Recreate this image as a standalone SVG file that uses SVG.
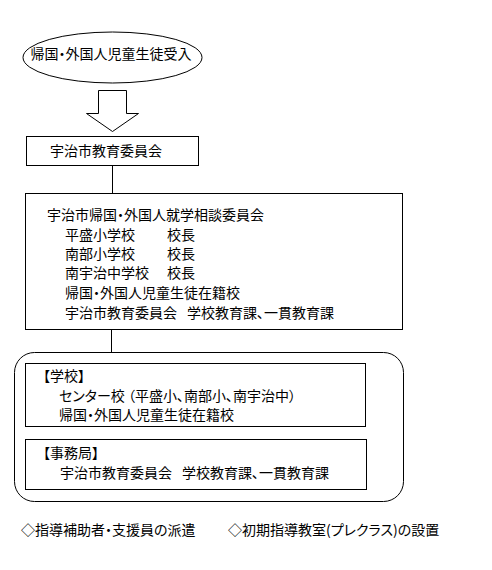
<svg xmlns="http://www.w3.org/2000/svg" width="492" height="570" viewBox="0 0 492 570">
<style>
.t{font-family:"Noto Sans CJK JP","Noto Sans CJK SC",sans-serif;font-size:14px;fill:#000;font-feature-settings:"palt"}
.s{fill:#fff;stroke:#000;stroke-width:1}
.c{fill:none;stroke:#000;stroke-width:1}
</style>
<rect x="0" y="0" width="492" height="570" fill="#fff"/>
<g id="connectors">
<polygon class="s" points="98.5,90.5 126.5,90.5 126.5,113.5 138.5,113.5 112.5,131.5 86.5,113.5 98.5,113.5"/>
<line class="c" x1="112.5" y1="166" x2="112.5" y2="193"/>
<line class="c" x1="111.5" y1="329" x2="111.5" y2="352"/>
</g>
<g id="start">
<ellipse class="s" cx="112.5" cy="57.5" rx="89.5" ry="25.5"/>
<text class="t" x="111" y="59" text-anchor="middle">帰国・外国人児童生徒受入</text>
</g>
<g id="board">
<rect class="s" x="26.5" y="136.5" width="172" height="29"/>
<text class="t" x="50" y="156">宇治市教育委員会</text>
</g>
<g id="committee">
<rect class="s" x="25.5" y="193.5" width="377" height="136"/>
<text class="t" x="47" y="220">宇治市帰国・外国人就学相談委員会</text>
<text class="t" x="65" y="240">平盛小学校<tspan x="167">校長</tspan></text>
<text class="t" x="65" y="259">南部小学校<tspan x="167">校長</tspan></text>
<text class="t" x="65" y="278">南宇治中学校<tspan x="167">校長</tspan></text>
<text class="t" x="65" y="298">帰国・外国人児童生徒在籍校</text>
<text class="t" x="65" y="318">宇治市教育委員会<tspan x="187">学校教育課、一貫教育課</tspan></text>
</g>
<g id="support">
<rect class="c" x="14.5" y="352.5" width="389" height="149" rx="20" ry="20"/>
</g>
<g id="schools">
<rect class="s" x="25.5" y="363.5" width="340" height="63"/>
<text class="t" x="43" y="381">【学校】</text>
<text class="t" x="59" y="401">センター校 （平盛小、南部小、南宇治中）</text>
<text class="t" x="59" y="420">帰国・外国人児童生徒在籍校</text>
</g>
<g id="office">
<rect class="s" x="25.5" y="439.5" width="341" height="50"/>
<text class="t" x="43" y="458">【事務局】</text>
<text class="t" x="60" y="478">宇治市教育委員会<tspan x="182">学校教育課、一貫教育課</tspan></text>
</g>
<g id="notes">
<text class="t" x="21" y="535">◇指導補助者・支援員の派遣</text>
<text class="t" x="228" y="535">◇初期指導教室(プレクラス)の設置</text>
</g>
</svg>
